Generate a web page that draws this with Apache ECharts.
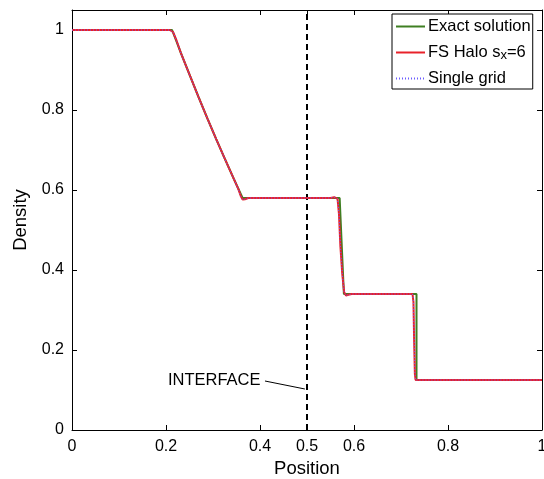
<!DOCTYPE html>
<html>
<head>
<meta charset="utf-8">
<script src="https://cdn.jsdelivr.net/npm/echarts@6/dist/echarts.min.js"></script>
<style>
html,body{margin:0;padding:0;background:#fff;}
#chart{width:544px;height:479px;}
</style>
</head>
<body>
<div id="chart"></div>
<script>
// ---- data ----
var xTicks = [0, 0.2, 0.4, 0.5, 0.6, 0.8, 1];
var yTicks = [0, 0.2, 0.4, 0.6, 0.8, 1];

var exactX = [0, 0.213, 0.2318, 0.2505, 0.2693, 0.288, 0.3068, 0.3255, 0.3443, 0.363, 0.5695, 0.5785, 0.733, 0.733, 1];
var exactY = [1, 1, 0.942, 0.887, 0.832, 0.779, 0.727, 0.677, 0.628, 0.58, 0.58, 0.34, 0.34, 0.125, 0.125];

var haloX = [0, 0.208, 0.215, 0.222, 0.2318, 0.2505, 0.2693, 0.288, 0.3068, 0.3255, 0.3443, 0.354, 0.359, 0.363, 0.368, 0.375, 0.55, 0.558, 0.562, 0.565, 0.568, 0.571, 0.575, 0.579, 0.583, 0.588, 0.595, 0.7245, 0.7265, 0.728, 0.7295, 0.731, 1];
var haloY = [1, 1, 0.995, 0.975, 0.942, 0.887, 0.832, 0.779, 0.727, 0.677, 0.628, 0.602, 0.585, 0.576, 0.577, 0.58, 0.58, 0.582, 0.584, 0.578, 0.54, 0.46, 0.39, 0.345, 0.336, 0.338, 0.34, 0.34, 0.32, 0.22, 0.14, 0.125, 0.125];

var singleX = [0, 0.208, 0.215, 0.222, 0.2318, 0.2505, 0.2693, 0.288, 0.3068, 0.3255, 0.3443, 0.354, 0.359, 0.363, 0.368, 0.375, 0.55, 0.558, 0.562, 0.565, 0.568, 0.571, 0.575, 0.579, 0.583, 0.588, 0.595, 0.7245, 0.7265, 0.728, 0.7295, 0.731, 1];
var singleY = [1, 1, 0.995, 0.975, 0.942, 0.887, 0.832, 0.779, 0.727, 0.677, 0.628, 0.602, 0.585, 0.576, 0.577, 0.58, 0.58, 0.582, 0.584, 0.578, 0.54, 0.46, 0.39, 0.345, 0.336, 0.338, 0.34, 0.34, 0.32, 0.22, 0.14, 0.125, 0.125];

var interfaceX = [0.5, 0.5];
var interfaceY = [0, 1.05];

function pairs(xs, ys){ return xs.map(function(x,i){ return [x, ys[i]]; }); }

var FONT = 'Liberation Sans, Arial, sans-serif';
var chart = echarts.init(document.getElementById('chart'), null, {renderer:'canvas'});

function fmt(v){ return (Math.round(v*10)/10).toString(); }

var axisCommon = {
  type: 'value',
  axisLine: {show: true, onZero: false, lineStyle: {color: '#000', width: 1}},
  splitLine: {show: false}
};

chart.setOption({
  animation: false,
  backgroundColor: '#fff',
  grid: {left: 72, right: 2, top: 10, bottom: 49, containLabel: false, outerBoundsMode: 'none'},
  legend: {
    orient: 'vertical',
    left: 392, top: 14,
    padding: [3, 2, 1, 3],
    itemWidth: 29, itemHeight: 14, itemGap: 7,
    borderColor: '#000', borderWidth: 1, borderRadius: 0,
    backgroundColor: '#fff',
    itemStyle: {opacity: 0},
    data: ['Exact solution', 'FS Halo', 'Single grid'],
    formatter: function(name){
      if (name === 'FS Halo') return '{a|FS Halo s}{sub|x}{a|=6}';
      return '{a|' + name + '}';
    },
    textStyle: {
      fontFamily: FONT, fontSize: 16.5, color: '#000', padding: [0, 0, 0, -2], lineHeight: 19,
      rich: {
        a: {fontFamily: FONT, fontSize: 16.5, color: '#000', lineHeight: 19},
        sub: {fontFamily: FONT, fontSize: 13, color: '#000', verticalAlign: 'bottom', lineHeight: 13, padding: [6, 0, 0, 0]}
      }
    }
  },
  xAxis: [
    Object.assign({}, axisCommon, {
      min: 0, max: 1, position: 'bottom',
      name: 'Position', nameLocation: 'middle', nameGap: 29,
      nameTextStyle: {fontFamily: FONT, fontSize: 18.5, color: '#000'},
      axisTick: {show: true, inside: true, length: 5, customValues: xTicks, lineStyle: {color: '#000'}},
      axisLabel: {show: true, customValues: xTicks, formatter: fmt, margin: 9, fontFamily: FONT, fontSize: 16, color: '#000'}
    }),
    Object.assign({}, axisCommon, {
      min: 0, max: 1, position: 'top',
      axisTick: {show: true, inside: true, length: 5, customValues: xTicks, lineStyle: {color: '#000'}},
      axisLabel: {show: false}
    })
  ],
  yAxis: [
    Object.assign({}, axisCommon, {
      min: 0, max: 1.05, position: 'left',
      name: 'Density', nameLocation: 'middle', nameGap: 40, nameRotate: 90,
      nameTextStyle: {fontFamily: FONT, fontSize: 18.5, color: '#000'},
      axisTick: {show: true, inside: true, length: 5, customValues: yTicks, lineStyle: {color: '#000'}},
      axisLabel: {show: true, customValues: yTicks, formatter: fmt, margin: 8, fontFamily: FONT, fontSize: 16, color: '#000'}
    }),
    Object.assign({}, axisCommon, {
      min: 0, max: 1.05, position: 'right',
      axisTick: {show: true, inside: true, length: 5, customValues: yTicks, lineStyle: {color: '#000'}},
      axisLabel: {show: false}
    })
  ],
  series: [
    {
      name: 'Interface', type: 'line', data: pairs(interfaceX, interfaceY),
      showSymbol: false, silent: true,
      lineStyle: {color: '#000', width: 2, type: [6, 4]},
      markLine: {
        silent: true, animation: false,
        symbol: ['none', 'arrow'], symbolSize: [0, 11],
        label: {show: false},
        lineStyle: {color: '#000', width: 1, type: 'solid'},
        data: [[{coord: [0.4106, 0.1225]}, {coord: [0.4955, 0.1025]}]]
      },
      markPoint: {
        silent: true, symbol: 'circle', symbolSize: 0,
        label: {show: true, position: 'inside', formatter: 'INTERFACE', fontFamily: FONT, fontSize: 16.5, color: '#000'},
        data: [{coord: [0.3025, 0.125]}]
      },
      z: 1
    },
    {
      name: 'Exact solution', type: 'line', data: pairs(exactX, exactY),
      showSymbol: false, symbol: 'none',
      lineStyle: {color: '#3f7f22', width: 2},
      itemStyle: {color: '#3f7f22'}, z: 2
    },
    {
      name: 'FS Halo', type: 'line', data: pairs(haloX, haloY),
      showSymbol: false, symbol: 'none',
      lineStyle: {color: '#e8222a', width: 2},
      itemStyle: {color: '#e8222a'}, z: 3
    },
    {
      name: 'Single grid', type: 'line', data: pairs(singleX, singleY),
      showSymbol: false, symbol: 'none',
      lineStyle: {color: '#6a5cff', width: 1, type: [1, 2]},
      itemStyle: {color: '#6a5cff'}, z: 4
    }
  ]
});
</script>
</body>
</html>
